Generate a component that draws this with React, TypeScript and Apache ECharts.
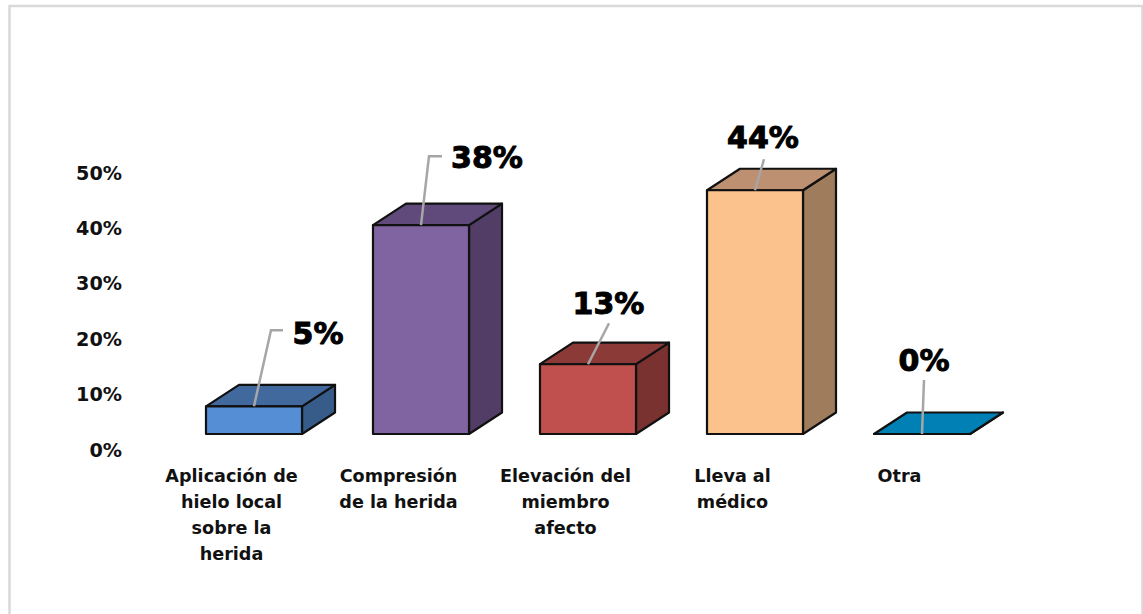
import React, { useEffect, useRef } from "react";
import * as echarts from "echarts";

const categories = [
  "Aplicación de\nhielo local\nsobre la\nherida",
  "Compresión\nde la herida",
  "Elevación del\nmiembro\nafecto",
  "Lleva al\nmédico",
  "Otra",
];
const values = [5, 37.7, 12.6, 44, 0];
const labels = ["5%", "38%", "13%", "44%", "0%"];
const frontColors = ["#558ED5", "#8064A2", "#C0504D", "#FCC28E", "#0080B4"];
const topColors = ["#41699E", "#604A7B", "#8B3A38", "#BC9070", "#0080B4"];
const sideColors = ["#375C8A", "#513D66", "#7A3230", "#9F7C5C", "#0080B4"];

const FONT = "'DejaVu Sans', sans-serif";
const leaders = [
  [[17, -76], [29, -76]],
  [[8, -69], [21, -69]],
  [[21, -41]],
  [[9, -31]],
  [[2, -54]],
];
const labelOffsets = [[64, -73], [66, -68], [20.5, -61], [8, -53], [2, -74]];

export default function App() {
  const ref = useRef<HTMLDivElement>(null);
  useEffect(() => {
    const chart = echarts.init(ref.current!, undefined, { renderer: "svg" });
    const renderItem = (_p: any, api: any) => {
      const i = api.value(0);
      const v = api.value(1);
      const floor = api.coord([i, 0]);
      const top = api.coord([i, v]);
      const cx = floor[0] + 22.5;
      const w = api.size([1, 0])[0] * 0.575;
      const l = cx - w / 2;
      const r = cx + w / 2;
      const yb = floor[1] - 16;
      const yt = top[1] - 16;
      const dx = 33;
      const dy = -21.5;
      const stroke = { stroke: "#111", lineWidth: 2.2, lineJoin: "round" };
      const pts = [[cx, yt], ...leaders[i].map((o) => [cx + o[0], yt + o[1]])];
      return {
        type: "group",
        children: [
          {
            type: "polygon",
            shape: { points: [[r, yb], [r + dx, yb + dy], [r + dx, yt + dy], [r, yt]] },
            style: { fill: sideColors[i], ...stroke },
          },
          {
            type: "polygon",
            shape: { points: [[l, yt], [l + dx, yt + dy], [r + dx, yt + dy], [r, yt]] },
            style: { fill: topColors[i], ...stroke },
          },
          {
            type: "rect",
            shape: { x: l, y: yt, width: w, height: yb - yt },
            style: { fill: frontColors[i], ...stroke },
          },
          {
            type: "polyline",
            shape: { points: pts },
            style: { fill: "none", stroke: "#A6A6A6", lineWidth: 2.5 },
          },
          {
            type: "text",
            style: {
              x: cx + labelOffsets[i][0],
              y: yt + labelOffsets[i][1],
              text: labels[i],
              fill: "#000",
              stroke: "#000",
              lineWidth: 1,
              font: `bold 30px ${FONT}`,
              align: "center",
              verticalAlign: "middle",
            },
          },
        ],
      };
    };
    chart.setOption({
      animation: false,
      backgroundColor: "#fff",
      grid: { left: 148, width: 835, top: 173, height: 277 },
      xAxis: {
        type: "category",
        data: categories,
        axisLine: { show: false },
        axisTick: { show: false },
        axisLabel: {
          interval: 0,
          margin: 13,
          lineHeight: 26,
          color: "#111",
          fontFamily: FONT,
          fontWeight: "bold",
          fontSize: 17.6,
        },
      },
      yAxis: {
        type: "value",
        min: 0,
        max: 50,
        interval: 10,
        axisLine: { show: false },
        axisTick: { show: false },
        splitLine: { show: false },
        axisLabel: {
          formatter: "{value}%",
          margin: 26,
          color: "#111",
          fontFamily: FONT,
          fontWeight: "bold",
          fontSize: 19.2,
        },
      },
      graphic: [
        {
          type: "rect",
          silent: true,
          shape: { x: 9.5, y: 6, width: 1133, height: 620 },
          style: { fill: "none", stroke: "#D9D9D9", lineWidth: 2.5 },
        },
      ],
      series: [
        {
          type: "custom",
          clip: false,
          renderItem,
          encode: { x: 0, y: 1 },
          data: values.map((v, i) => [i, v]),
        },
      ],
    });
    return () => chart.dispose();
  }, []);
  return (
    <div
      ref={ref}
      style={{ position: "absolute", left: 0, top: 0, width: 1143, height: 614 }}
    />
  );
}
